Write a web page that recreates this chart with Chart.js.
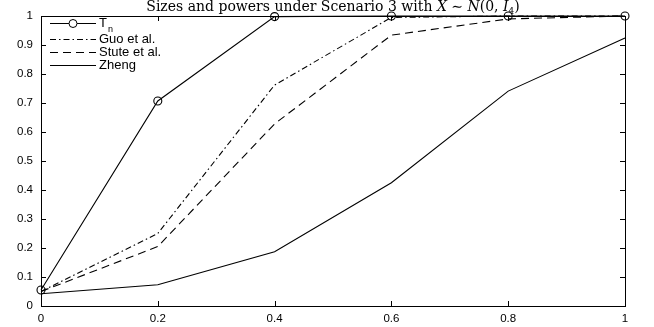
<!DOCTYPE html>
<html>
<head>
<meta charset="utf-8">
<script src="https://cdn.jsdelivr.net/npm/chart.js@4.4.1/dist/chart.umd.min.js"></script>
<style>
  html, body { margin: 0; padding: 0; background: #fff; }
  #wrap { width: 654px; height: 327px; }
</style>
</head>
<body>
<div id="wrap"><canvas id="chart" width="654" height="327"></canvas></div>
<script>
// data
const xVals = [0, 0.2, 0.4, 0.6, 0.8, 1];
const tnVals = [0.055, 0.707, 0.998, 1.0, 1.0, 1.0];
const guoVals = [0.05, 0.25, 0.762, 0.995, 1.0, 1.0];
const stuteVals = [0.05, 0.205, 0.628, 0.934, 0.99, 1.0];
const zhengVals = [0.042, 0.073, 0.187, 0.425, 0.741, 0.924];
const xTicks = [0, 0.2, 0.4, 0.6, 0.8, 1];
const yTicks = [0, 0.1, 0.2, 0.3, 0.4, 0.5, 0.6, 0.7, 0.8, 0.9, 1];

const tickFont = { family: '"Liberation Sans", Arial, sans-serif', size: 11.5 };
const toPts = ys => xVals.map((x, i) => ({ x: x, y: ys[i] }));

const seriesList = [
  { label: 'T', sub: 'n', data: tnVals, dash: [], marker: true },
  { label: 'Guo et al.', data: guoVals, dash: [6, 3, 1.5, 3], marker: false },
  { label: 'Stute et al.', data: stuteVals, dash: [8, 5], marker: false },
  { label: 'Zheng', data: zhengVals, dash: [], marker: false }
];

// --- plugin: kotak, tick ke dalam, judul, legenda ---
const decorPlugin = {
  id: 'decor',
  afterDraw(chart) {
    const ctx = chart.ctx;
    const a = chart.chartArea;
    const xs = chart.scales.x, ys = chart.scales.y;
    ctx.save();
    ctx.strokeStyle = '#000';
    ctx.lineWidth = 1;
    ctx.setLineDash([]);
    ctx.strokeRect(a.left + 0.5, a.top + 0.5, a.right - a.left, a.bottom - a.top);
    const tl = 5;
    ctx.beginPath();
    xTicks.forEach(v => {
      const px = Math.round(xs.getPixelForValue(v)) + 0.5;
      ctx.moveTo(px, a.bottom); ctx.lineTo(px, a.bottom - tl);
      ctx.moveTo(px, a.top); ctx.lineTo(px, a.top + tl);
    });
    yTicks.forEach(v => {
      const py = Math.round(ys.getPixelForValue(v)) + 0.5;
      ctx.moveTo(a.left, py); ctx.lineTo(a.left + tl, py);
      ctx.moveTo(a.right, py); ctx.lineTo(a.right - tl, py);
    });
    ctx.stroke();

    // judul
    const serif = '"DejaVu Serif", "Liberation Serif", serif';
    const fs = 14;
    const parts = [
      { t: 'Sizes and powers under Scenario 3 with ', f: fs + 'px ' + serif },
      { t: 'X', f: 'italic ' + fs + 'px ' + serif },
      { t: ' \u223C ', f: fs + 'px ' + serif },
      { t: 'N', f: 'italic ' + fs + 'px ' + serif },
      { t: '(0, ', f: fs + 'px ' + serif },
      { t: 'I', f: 'italic ' + fs + 'px ' + serif },
      { t: '4', f: '9px ' + serif, sub: true },
      { t: ')', f: fs + 'px ' + serif }
    ];
    let total = 0;
    parts.forEach(p => { ctx.font = p.f; p.w = ctx.measureText(p.t).width; total += p.w; });
    let cx = (a.left + a.right) / 2 - total / 2;
    ctx.fillStyle = '#000';
    ctx.textBaseline = 'alphabetic';
    ctx.textAlign = 'left';
    parts.forEach(p => {
      ctx.font = p.f;
      ctx.fillText(p.t, cx, p.sub ? 14 : 11);
      cx += p.w;
    });

    // legenda
    const rows = [23, 39, 52, 65];
    seriesList.forEach((s, i) => {
      const y = rows[i] + 0.5;
      ctx.setLineDash(s.dash);
      ctx.beginPath();
      ctx.moveTo(50, y); ctx.lineTo(96, y);
      ctx.stroke();
      ctx.setLineDash([]);
      if (s.marker) {
        ctx.beginPath();
        ctx.arc(73, y, 4, 0, Math.PI * 2);
        ctx.fillStyle = '#fff';
        ctx.fill();
        ctx.stroke();
      }
      ctx.fillStyle = '#000';
      ctx.font = '13px "Liberation Sans", Arial, sans-serif';
      ctx.textBaseline = 'middle';
      ctx.fillText(s.label, 99, y);
      if (s.sub) {
        const w = ctx.measureText(s.label).width;
        ctx.font = '9px "Liberation Sans", Arial, sans-serif';
        ctx.fillText(s.sub, 99 + w + 1, y + 6);
      }
    });
    ctx.restore();
  }
};

const ctx = document.getElementById('chart').getContext('2d');
new Chart(ctx, {
  type: 'line',
  data: {
    datasets: seriesList.map(s => ({
      label: s.label,
      data: toPts(s.data),
      borderColor: '#000',
      borderWidth: 1.1,
      borderDash: s.dash,
      backgroundColor: '#fff',
      pointRadius: s.marker ? 4 : 0,
      pointBorderWidth: 1.1,
      pointBorderColor: '#000',
      pointBackgroundColor: 'rgba(0,0,0,0)',
      tension: 0,
      fill: false,
      clip: false
    }))
  },
  options: {
    responsive: false,
    animation: false,
    layout: { padding: { top: 16, right: 29, left: 0, bottom: 0 } },
    plugins: {
      legend: { display: false },
      title: { display: false },
      tooltip: { enabled: false }
    },
    scales: {
      x: {
        type: 'linear',
        min: 0, max: 1,
        afterFit: s => { s.height = 21; },
        afterBuildTicks: s => { s.ticks = xTicks.map(v => ({ value: v })); },
        grid: { display: false, drawTicks: false },
        border: { display: false },
        ticks: { color: '#000', font: tickFont, padding: 6, maxRotation: 0,
                 callback: v => String(v) }
      },
      y: {
        min: 0, max: 1,
        afterFit: s => { s.width = 41; },
        afterBuildTicks: s => { s.ticks = yTicks.map(v => ({ value: v })); },
        grid: { display: false, drawTicks: false },
        border: { display: false },
        ticks: { color: '#000', font: tickFont, padding: 8,
                 callback: v => String(Math.round(v * 10) / 10) }
      }
    }
  },
  plugins: [decorPlugin]
});
</script>
</body>
</html>
